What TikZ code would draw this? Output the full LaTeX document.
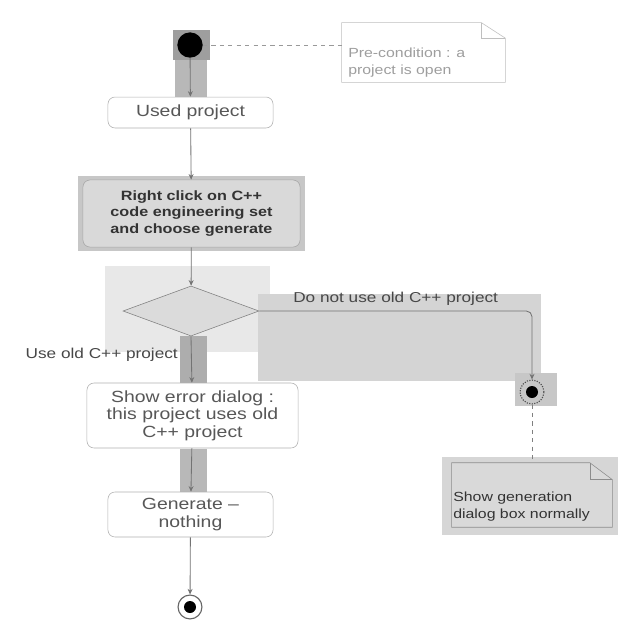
\documentclass[tikz,border=0pt]{standalone}
\usepackage{fontspec}
\setmainfont[FakeStretch=1.2]{Liberation Sans}
\usetikzlibrary{shapes.geometric,arrows.meta}

\begin{document}
\begin{tikzpicture}[x=0.025cm,y=-0.025cm,
  act/.style={draw=black!30,rounded corners=5pt,fill=white,text=black!66,align=center,
    inner sep=0pt,font=\fontsize{11.5}{13}\selectfont},
  flow/.style={draw=black!55,line width=0.6pt,-{Stealth[length=4pt,width=3.5pt]}},
  lbl/.style={text=black!72,font=\fontsize{10.2}{12}\selectfont},
  notetext/.style={align=left,inner sep=0pt,font=\fontsize{9.4}{12}\selectfont},
  final/.style={circle,draw=black!60,line width=0.8pt,fill=white,minimum size=17pt,inner sep=0pt}]
\useasboundingbox[fill=white] (0,0) rectangle (640,640);

% selection shading
\fill[black!38] (173,30) rectangle (210,60);
\fill[black!28] (175,60) rectangle (207,97);
\fill[black!22] (78,176) rectangle (305,251);
\fill[black!9] (105,266) rectangle (270,352);
\fill[black!17] (258,294) rectangle (541,381);
\fill[black!32] (180,336) rectangle (207,390);
\fill[black!28] (180,449) rectangle (207,492);
\fill[black!22] (515,373) rectangle (557,406);
\fill[black!16] (442,457) rectangle (618,535);

% nodes
\node[circle,fill=black,minimum size=18pt,inner sep=0pt] (start) at (190,45) {};
\node[minimum width=116pt,minimum height=42pt,inner sep=0pt] (prenote) at (423.5,52.5) {};
\draw[black!25] (prenote.south west) -- (prenote.north west)
  -- ([xshift=-17pt]prenote.north east) -- ([yshift=-11pt]prenote.north east)
  -- (prenote.south east) -- cycle;
\draw[black!25] ([xshift=-17pt]prenote.north east) |- ([yshift=-11pt]prenote.north east);
\node[notetext,text=black!38,anchor=west] (pretext) at (348,63) {Pre-condition : a\\project is open};

\node[act,minimum width=117.4pt,minimum height=22pt] (used) at (190.5,112.5) {Used project};
\node[act,fill=black!15,draw=black!35,text=black!80,minimum width=154.4pt,minimum height=47.7pt,
  font=\fontsize{9.6}{12}\selectfont\bfseries] (rclick) at (191.5,213.5)
  {Right click on C++\\code engineering set\\and choose generate};
\node[diamond,draw=black!50,fill=black!14,minimum width=96.7pt,minimum height=35.6pt,
  inner sep=0pt] (dec) at (191,311) {};
\node[act,minimum width=150.1pt,minimum height=46.2pt,font=\fontsize{11.5}{12.5}\selectfont] (err) at (192.5,415.5)
  {Show error dialog :\\this project uses old\\C++ project};
\node[act,minimum width=117.4pt,minimum height=32pt] (gen) at (190.5,514.5) {Generate --\\nothing};
\node[final] (end1) at (190,607) {};
\fill[black] (end1.center) circle[radius=6];
\node[final,draw=black!70,densely dotted,fill=black!22] (end2) at (532,392) {};
\fill[black] (end2.center) circle[radius=6];

\node[minimum width=113.8pt,minimum height=45.5pt,inner sep=0pt] (note) at (532,495) {};
\draw[black!45,fill=black!15] (note.south west) -- (note.north west)
  -- ([xshift=-16pt]note.north east) -- ([yshift=-12pt]note.north east)
  -- (note.south east) -- cycle;
\draw[black!45] ([xshift=-16pt]note.north east) |- ([yshift=-12pt]note.north east);
\node[notetext,text=black!80,anchor=west] (notetxt) at (453,507) {Show generation\\dialog box normally};

% connectors
\draw[flow] (start) -- (used);
\draw[dashed,black!40] (start.east) -- (start.east -| prenote.west);
\draw[flow] (used) -- (rclick);
\draw[flow] (rclick) -- (dec);
\draw[flow] (dec.south) -- node[lbl,left=6pt,pos=0.4] {Use old C++ project} (err);
\draw[flow,rounded corners=4pt] (dec.east) -| node[lbl,above,pos=0.25] {Do not use old C++ project} (end2);
\draw[flow] (err) -- (gen);
\draw[flow] (gen) -- (end1);
\draw[dashed,black!50] (end2) -- (note);
\end{tikzpicture}
\end{document}
